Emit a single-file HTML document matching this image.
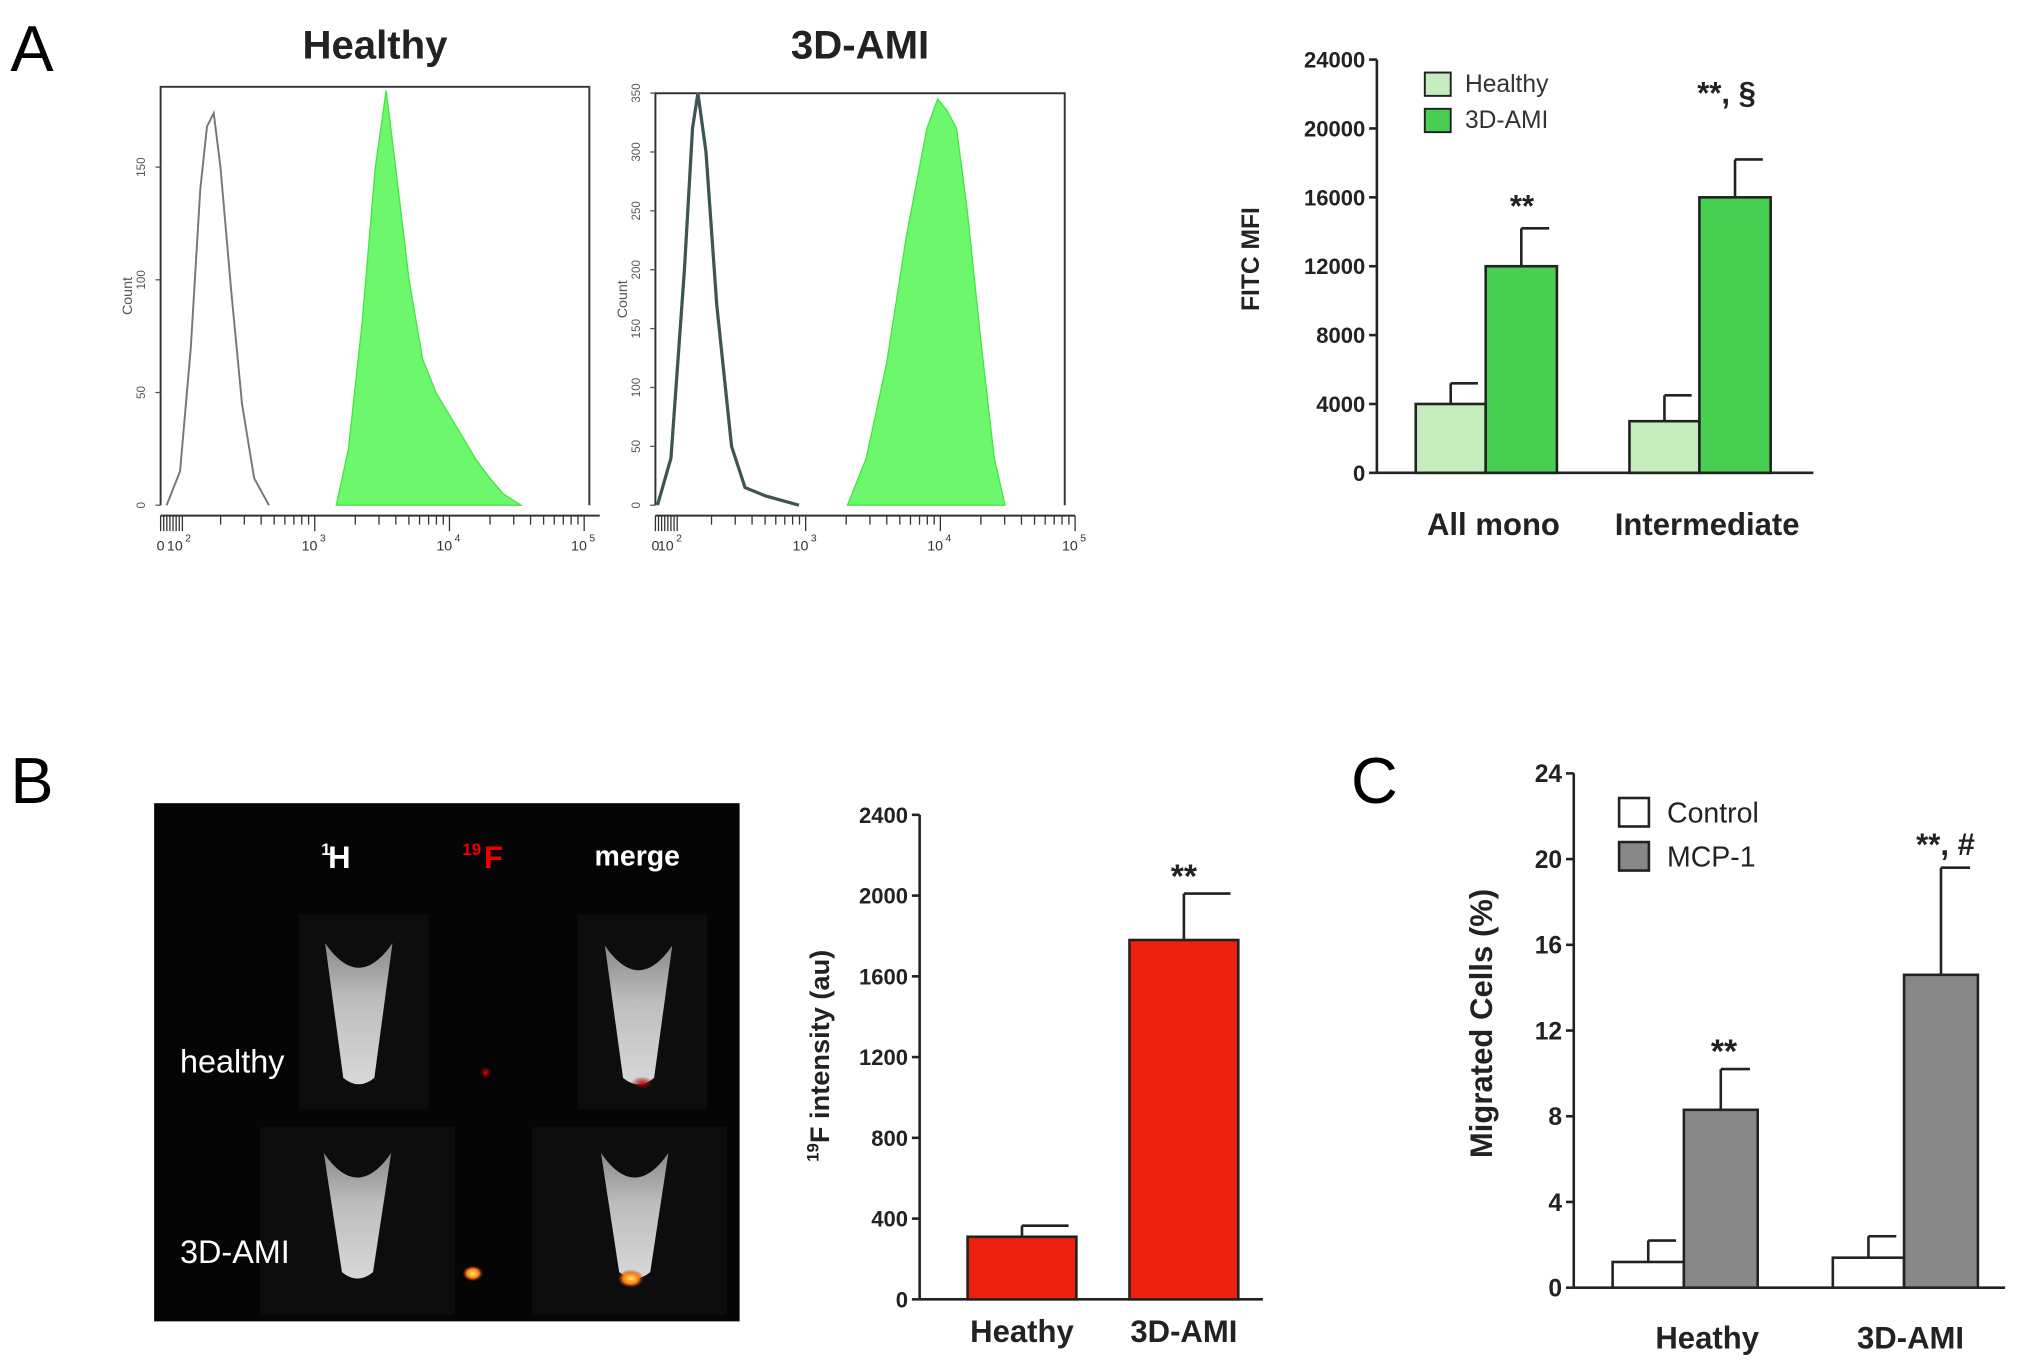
<!DOCTYPE html>
<html><head><meta charset="utf-8"><style>
html,body{margin:0;padding:0;background:#fff}
svg{display:block}
text{font-family:"Liberation Sans",Arial,sans-serif}
</style></head><body>
<svg id="fig" width="2031" height="1368" viewBox="0 0 1568 1056" preserveAspectRatio="none" xmlns="http://www.w3.org/2000/svg">
<defs>
<linearGradient id="tube" x1="0" y1="0" x2="0" y2="1"><stop offset="0" stop-color="#8a8a8a"/><stop offset="0.4" stop-color="#bdbdbd"/><stop offset="1" stop-color="#d8d8d8"/></linearGradient>
<radialGradient id="hot"><stop offset="0" stop-color="#ffee66"/><stop offset="0.6" stop-color="#ff7a10"/><stop offset="1" stop-color="#aa2200" stop-opacity="0"/></radialGradient>
<radialGradient id="redspot"><stop offset="0" stop-color="#dd1111"/><stop offset="1" stop-color="#660000" stop-opacity="0"/></radialGradient>
</defs>
<g id="root"></g>
</svg>
<script>
const NS='http://www.w3.org/2000/svg';
const root=document.getElementById('root');
function el(tag,attrs,parent,txt){const e=document.createElementNS(NS,tag);for(const k in attrs)e.setAttribute(k,attrs[k]);if(txt!==undefined)e.textContent=txt;(parent||root).appendChild(e);return e;}

// ---------- data ----------
const histHealthyGrayLog=[1.9,2.0,2.08,2.15,2.2,2.25,2.3,2.38,2.46,2.55,2.66];
const histHealthyGrayCnt=[0,15,70,140,168,174,150,95,45,12,0];
const histHealthyGreenLog=[3.16,3.25,3.35,3.45,3.53,3.6,3.7,3.8,3.9,4.0,4.1,4.2,4.3,4.4,4.53];
const histHealthyGreenCnt=[0,25,80,150,184,150,100,65,50,40,30,20,12,5,0];
const hist3dGrayLog=[1.9,2.0,2.1,2.16,2.2,2.26,2.34,2.45,2.55,2.7,2.95];
const hist3dGrayCnt=[0,40,200,320,350,300,170,50,15,8,0];
const hist3dGreenLog=[3.31,3.45,3.6,3.75,3.9,3.98,4.05,4.12,4.2,4.3,4.4,4.48];
const hist3dGreenCnt=[0,40,120,230,320,345,335,320,250,140,40,0];

const mfiCategories=['All mono','Intermediate'];
const mfiHealthy=[4000,3000];
const mfiHealthyErr=[1200,1500];
const mfiAMI=[12000,16000];
const mfiAMIErr=[2200,2200];
const mfiTicks=[0,4000,8000,12000,16000,20000,24000];

const fCategories=['Heathy','3D-AMI'];
const fValues=[310,1780];
const fErr=[55,230];
const fTicks=[0,400,800,1200,1600,2000,2400];

const migCategories=['Heathy','3D-AMI'];
const migControl=[1.2,1.4];
const migControlErr=[1.0,1.0];
const migMCP=[8.3,14.6];
const migMCPErr=[1.9,5.0];
const migTicks=[0,4,8,12,16,20,24];

// ---------- panel letters ----------
let t;
t=el('text',{x:8,y:55,'font-size':50},root,'A');

t=el('text',{x:8,y:620,'font-size':50},root,'B');

t=el('text',{x:1043,y:620,'font-size':50},root,'C');


// ---------- histograms ----------
function histogram(cfg){
  const g=el('g',{});
  
  
  const xs=l=>cfg.x3+cfg.dec*(l-3);
  const ys=c=>cfg.y0-c*cfg.ppu;
  t=el('text',{x:(cfg.left+cfg.right)/2,y:45,'font-size':31,'font-weight':'bold','text-anchor':'middle',fill:'#222'},g,cfg.title);
  
  el('path',{d:`M${cfg.left},${cfg.y0} V${cfg.top} H${cfg.right} V${cfg.y0}`,fill:'none',stroke:'#333','stroke-width':1.5},g);
  let d=`M${xs(cfg.gl[0])},${ys(0)}`;
  cfg.gl.forEach((l,i)=>{d+=` L${xs(l)},${ys(cfg.gc[i])}`});
  d+=` L${xs(cfg.gl[cfg.gl.length-1])},${ys(0)}Z`;
  const gp=el('path',{d,fill:'#6cf76c',stroke:'#3ee83e','stroke-width':1},g);
  
  let d2='';
  cfg.kl.forEach((l,i)=>{d2+=(i?' L':'M')+xs(l)+','+ys(cfg.kc[i])});
  const kp=el('path',{d:d2,fill:'none',stroke:cfg.grayColor,'stroke-width':cfg.grayW},g);
  
  cfg.yt.forEach(v=>{
    el('line',{x1:cfg.left-4,x2:cfg.left,y1:ys(v),y2:ys(v),stroke:'#555'},g);
    t=el('text',{x:cfg.left-12,y:ys(v),'font-size':9,fill:'#555','text-anchor':'middle',transform:`rotate(-90 ${cfg.left-12} ${ys(v)})`},g,String(v));
  });
  t=el('text',{x:cfg.left-22,y:(cfg.top+cfg.y0)/2,'font-size':11,fill:'#555','text-anchor':'middle',transform:`rotate(-90 ${cfg.left-22} ${(cfg.top+cfg.y0)/2})`},g,'Count');
  
  const ay=cfg.y0+8;
  el('line',{x1:cfg.left,x2:cfg.right+8,y1:ay,y2:ay,stroke:'#333','stroke-width':1.5},g);
  for(let k=0;k<8;k++) el('line',{x1:cfg.left+k*2.4,x2:cfg.left+k*2.4,y1:ay,y2:ay+12,stroke:'#333'},g);
  for(let dec=2;dec<5;dec++){for(let m=2;m<=10;m++){const x=xs(dec+Math.log10(m));el('line',{x1:x,x2:x,y1:ay,y2:ay+(m==10?12:7),stroke:'#333'},g);}}
  const lab=[['0',cfg.left],['10',xs(2)],['10',xs(3)],['10',xs(4)],['10',xs(5)]];
  const sup=['','2','3','4','5'];
  lab.forEach((p,i)=>{
    t=el('text',{x:p[1]-(i?4:0),y:ay+27,'font-size':11,fill:'#333','text-anchor':'middle'},g,p[0]);
    if(sup[i]) el('text',{x:p[1]+4,y:ay+20,'font-size':8,fill:'#333'},g,sup[i]);
  });
}
histogram({name:'histogram-healthy',title:'Healthy',left:124,right:455,top:67,y0:390,ppu:1.74,x3:243,dec:104,
  gl:histHealthyGreenLog,gc:histHealthyGreenCnt,kl:histHealthyGrayLog,kc:histHealthyGrayCnt,yt:[0,50,100,150],grayColor:'#777',grayW:1.5});
histogram({name:'histogram-3d-ami',title:'3D-AMI',left:506,right:822,top:72,y0:390,ppu:0.909,x3:622,dec:104,
  gl:hist3dGreenLog,gc:hist3dGreenCnt,kl:hist3dGrayLog,kc:hist3dGrayCnt,yt:[0,50,100,150,200,250,300,350],grayColor:'#3d5555',grayW:2.5});

// ---------- generic bar chart ----------
function barAxis(g,ax,y0,yTop,max,ticks,right,fs){
  const ys=v=>y0-(v/max)*(y0-yTop);
  el('line',{x1:ax,x2:ax,y1:y0,y2:yTop,stroke:'#222','stroke-width':2},g);
  el('line',{x1:ax,x2:right,y1:y0,y2:y0,stroke:'#222','stroke-width':2},g);
  ticks.forEach(v=>{
    el('line',{x1:ax-6,x2:ax,y1:ys(v),y2:ys(v),stroke:'#222','stroke-width':2},g);
    t=el('text',{x:ax-9,y:ys(v)+fs*0.36,'font-size':fs,'font-weight':'bold','text-anchor':'end',fill:'#222'},g,String(v));
    
  });
  return ys;
}
function bar(g,x,w,ys,v,e,fill,name){
  const r=el('rect',{x,y:ys(v),width:w,height:ys(0)-ys(v),fill,stroke:'#222','stroke-width':2},g);
  
  const cx=x+w/2;
  const l=el('path',{d:`M${cx},${ys(v)} V${ys(v+e)} M${cx},${ys(v+e)} H${cx+w/2-6}`,stroke:'#222','stroke-width':2,fill:'none'},g);
  
}

// Panel A bar chart
(function(){
  const g=el('g',{});
  const ys=barAxis(g,1063,365,46,24000,mfiTicks,1400,17);
  const starts=[1093,1258];
  mfiCategories.forEach((c,i)=>{
    bar(g,starts[i],54,ys,mfiHealthy[i],mfiHealthyErr[i],'#c4ecbd','bar-healthy-'+i);
    bar(g,starts[i]+54,55,ys,mfiAMI[i],mfiAMIErr[i],'#48cf52','bar-3d-ami-'+i);
    t=el('text',{x:starts[i]+60,y:413,'font-size':24,'font-weight':'bold','text-anchor':'middle',fill:'#222'},g,c);
    
  });
  el('text',{x:1175,y:167,'font-size':24,'font-weight':'bold','text-anchor':'middle',fill:'#222'},g,'**');
  el('text',{x:1333,y:80,'font-size':24,'font-weight':'bold','text-anchor':'middle',fill:'#222'},g,'**, §');
  t=el('text',{x:972,y:200,'font-size':19,'font-weight':'bold','text-anchor':'middle',fill:'#222',transform:'rotate(-90 972 200)'},g,'FITC MFI');
  
  let r=el('rect',{x:1100,y:56,width:20,height:18,fill:'#c4ecbd',stroke:'#222','stroke-width':1.5},g);
  
  el('text',{x:1131,y:71,'font-size':19,fill:'#333'},g,'Healthy');
  r=el('rect',{x:1100,y:84,width:20,height:18,fill:'#48cf52',stroke:'#222','stroke-width':1.5},g);
  
  el('text',{x:1131,y:99,'font-size':19,fill:'#333'},g,'3D-AMI');
})();

// Panel B MRI image
(function(){
  const g=el('g',{});
  el('rect',{x:119,y:620,width:452,height:400,fill:'#050505'},g);
  [[231,706,100,150],[446,706,100,150],[201,870,150,145],[411,870,150,145]].forEach(b=>el('rect',{x:b[0],y:b[1],width:b[2],height:b[3],fill:'#0d0d0d'},g));
  function tube(cx,top,bot){
    el('path',{d:`M${cx-26},${top} Q${cx},${top+38} ${cx+26},${top} L${cx+12},${bot-8} Q${cx},${bot+2} ${cx-12},${bot-8}Z`,fill:'url(#tube)'},g);
  }
  tube(277,728,840);tube(493,730,840);tube(276,890,990);tube(490,890,990);
  el('circle',{cx:375,cy:828,r:5,fill:'url(#redspot)'},g);
  el('ellipse',{cx:496,cy:836,rx:9,ry:5,fill:'url(#redspot)'},g);
  el('ellipse',{cx:365,cy:983,rx:8,ry:6,fill:'url(#hot)'},g);
  el('ellipse',{cx:487,cy:987,rx:10,ry:7,fill:'url(#hot)'},g);
  el('text',{x:262,y:670,'font-size':24,'font-weight':'bold','text-anchor':'middle',fill:'#fff'},g,'H');
  el('text',{x:248,y:660,'font-size':13,'font-weight':'bold',fill:'#fff'},g,'1');
  el('text',{x:381,y:670,'font-size':24,'font-weight':'bold','text-anchor':'middle',fill:'#e00'},g,'F');
  el('text',{x:357,y:660,'font-size':13,'font-weight':'bold',fill:'#e00'},g,'19');
  el('text',{x:492,y:668,'font-size':22,'font-weight':'bold','text-anchor':'middle',fill:'#fff'},g,'merge');
  el('text',{x:139,y:828,'font-size':25,fill:'#fff'},g,'healthy');
  el('text',{x:139,y:975,'font-size':25,fill:'#fff'},g,'3D-AMI');
})();

// Panel B bar chart
(function(){
  const g=el('g',{});
  const ys=barAxis(g,710,1003,629,2400,fTicks,975,17);
  const starts=[747,872];
  fCategories.forEach((c,i)=>{
    bar(g,starts[i],84,ys,fValues[i],fErr[i],'#ee2010','bar-'+c.toLowerCase());
    t=el('text',{x:starts[i]+42,y:1036,'font-size':24,'font-weight':'bold','text-anchor':'middle',fill:'#222'},g,c);
    
  });
  el('text',{x:914,y:685,'font-size':26,'font-weight':'bold','text-anchor':'middle',fill:'#222'},g,'**');
  t=el('text',{x:640,y:815,'font-size':21,'font-weight':'bold','text-anchor':'middle',fill:'#222',transform:'rotate(-90 640 815)'},g);
  
  el('tspan',{'font-size':13,dy:-8},t,'19');
  el('tspan',{dy:8},t,'F intensity (au)');
})();

// Panel C bar chart
(function(){
  const g=el('g',{});
  const ys=barAxis(g,1215,994,597,24,migTicks,1548,19);
  const starts=[1245,1415];
  migCategories.forEach((c,i)=>{
    bar(g,starts[i],55,ys,migControl[i],migControlErr[i],'#ffffff','bar-control-'+i);
    bar(g,starts[i]+55,57,ys,migMCP[i],migMCPErr[i],'#888888','bar-mcp1-'+i);
    t=el('text',{x:starts[i]+(i?60:73),y:1041,'font-size':24,'font-weight':'bold','text-anchor':'middle',fill:'#222'},g,c);
    
  });
  el('text',{x:1331,y:820,'font-size':26,'font-weight':'bold','text-anchor':'middle',fill:'#222'},g,'**');
  el('text',{x:1502,y:660,'font-size':24,'font-weight':'bold','text-anchor':'middle',fill:'#222'},g,'**, #');
  t=el('text',{x:1152,y:790,'font-size':24,'font-weight':'bold','text-anchor':'middle',fill:'#222',transform:'rotate(-90 1152 790)'},g,'Migrated Cells  (%)');
  
  let r=el('rect',{x:1250,y:616,width:23,height:22,fill:'#fff',stroke:'#222','stroke-width':2},g);
  
  el('text',{x:1287,y:635,'font-size':22,fill:'#222'},g,'Control');
  r=el('rect',{x:1250,y:650,width:23,height:22,fill:'#888',stroke:'#222','stroke-width':2},g);
  
  el('text',{x:1287,y:669,'font-size':22,fill:'#222'},g,'MCP-1');
})();
</script>
</body></html>
